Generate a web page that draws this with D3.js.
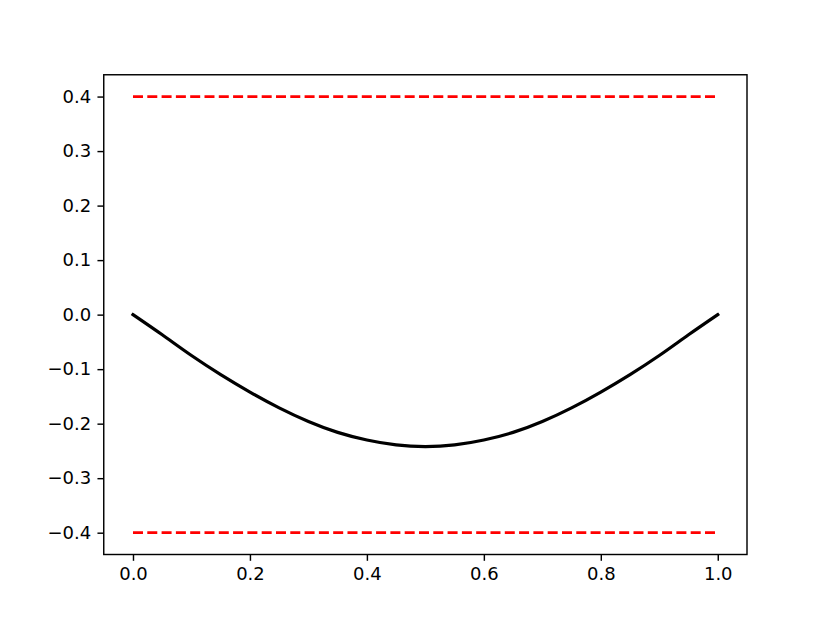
<!DOCTYPE html>
<html>
<head>
<meta charset="utf-8">
<script src="https://cdn.jsdelivr.net/npm/d3@7"></script>
<style>
  body { margin: 0; background: #fff; }
  svg text { font-family: "DejaVu Sans", sans-serif; font-size: 18px; fill: #000; }
</style>
</head>
<body>
<div id="container"></div>
<script>
// curve values
var xs = [0, 0.05, 0.1, 0.15, 0.2, 0.25, 0.3, 0.35, 0.4, 0.45, 0.5,
          0.55, 0.6, 0.65, 0.7, 0.75, 0.8, 0.85, 0.9, 0.95, 1];
var ys = [0, -0.037, -0.075, -0.110, -0.142, -0.171, -0.196, -0.216, -0.230, -0.239, -0.242,
          -0.239, -0.230, -0.216, -0.196, -0.171, -0.142, -0.110, -0.075, -0.037, 0];
var bounds = [0.4, -0.4];
var xTicks = [0, 0.2, 0.4, 0.6, 0.8, 1.0];
var yTicks = [0.4, 0.3, 0.2, 0.1, 0, -0.1, -0.2, -0.3, -0.4];

var width = 830;
var height = 623;
var margin = {left: 103.75, top: 74.76, right: 83, bottom: 68.5};

var svg = d3.select("#container")
            .append("svg")
            .attr("width", width)
            .attr("height", height);

var xScale = d3.scaleLinear()
               .domain([-0.05, 1.05])
               .range([margin.left, width - margin.right]);

var yScale = d3.scaleLinear()
               .domain([-0.44, 0.44])
               .range([height - margin.bottom, margin.top]);

var fmt = d3.format(".1f");
var tickFmt = (d) => fmt(d).replace("-", "\u2212");

var xAxis = d3.axisBottom(xScale).tickValues(xTicks).tickFormat(tickFmt)
              .tickSize(6.3).tickPadding(6.3);
var yAxis = d3.axisLeft(yScale).tickValues(yTicks).tickFormat(tickFmt)
              .tickSize(6.3).tickPadding(6.3);

var gx = svg.append("g")
   .attr("transform", "translate(0," + (height - margin.bottom) + ")")
   .call(xAxis);
var gy = svg.append("g")
   .attr("transform", "translate(" + margin.left + ",0)")
   .call(yAxis);

[gx, gy].forEach(g => {
    g.select(".domain").remove();
    g.selectAll("line").attr("stroke", "#000").attr("stroke-width", 1.44);
    g.selectAll("text").attr("font-family", "DejaVu Sans").attr("font-size", 18);
});

// lines
var bx = d3.extent(xs);
svg.selectAll("line.bound")
   .data(bounds)
   .enter()
   .append("line")
   .attr("class", "bound")
   .attr("x1", xScale(bx[0]))
   .attr("x2", xScale(bx[1]))
   .attr("y1", d => yScale(d))
   .attr("y2", d => yScale(d))
   .attr("stroke", "#ff0000")
   .attr("stroke-width", 2.8)
   .attr("stroke-dasharray", "10,4.3");

var line = d3.line()
    .x((d, i) => xScale(xs[i]))
    .y(d => yScale(d))
    .curve(d3.curveNatural);

svg.append("path")
   .datum(ys)
   .attr("d", line)
   .attr("fill", "none")
   .attr("stroke", "#000")
   .attr("stroke-width", 3.2)
   .attr("stroke-linecap", "square");

// frame
svg.append("rect")
   .attr("x", margin.left)
   .attr("y", margin.top)
   .attr("width", width - margin.left - margin.right)
   .attr("height", height - margin.top - margin.bottom)
   .attr("fill", "none")
   .attr("stroke", "#000")
   .attr("stroke-width", 1.44);
</script>
</body>
</html>
